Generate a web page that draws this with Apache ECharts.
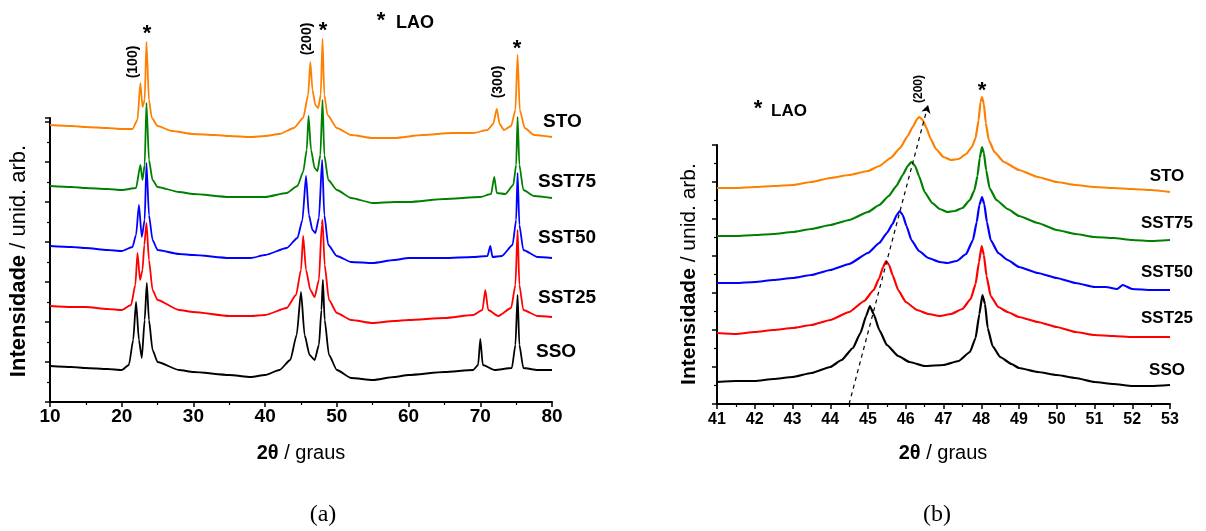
<!DOCTYPE html>
<html><head><meta charset="utf-8">
<script src="https://cdn.jsdelivr.net/npm/echarts@6/dist/echarts.min.js"></script>
<style>html,body{margin:0;padding:0;background:#fff}#c{width:1206px;height:531px}</style>
</head><body><div id="c"></div>
<script>
// ---------- Panel (a): 2θ 10–80°, offset-stacked intensities (arb. units) ----------
const stoA = [[10,277],[13,276],[15,275],[18,274],[20,273],[21.5,273],[22.2,282],[22.6,319],[22.9,295],[23.2,302],[23.45,360],[23.8,302],[24.2,284],[25,276],[27,271],[30,268],[33,267],[35,266],[38,265],[40,266],[42,268],[44,274],[45.3,284],[46.0,307],[46.3,340],[46.6,312],[47.0,297],[47.4,294],[47.75,307],[48.0,363],[48.25,307],[48.7,287],[50,274],[52,267],[55,264],[58,264],[62,267],[66,269],[69,269],[71,272],[71.8,278],[72.3,293],[72.7,278],[73.3,272],[74.3,276],[74.9,292],[75.2,347],[75.5,292],[76.2,274],[77.5,267],[80,265]];
const sst75A = [[10,216],[13,215],[15,214],[18,213],[20,212],[22,214],[22.6,237],[22.9,222],[23.2,237],[23.45,299],[23.8,242],[24.3,222],[25,215],[28,210],[30,208],[35,205],[40,205],[43,209],[44.5,216],[45.3,230],[45.8,252],[46.05,286],[46.4,252],[46.9,234],[47.3,231],[47.7,247],[48.0,302],[48.25,247],[48.8,222],[50,212],[52,204],[55,199],[58,200],[60,200],[65,203],[70,205],[71.5,208],[71.95,225],[72.3,209],[73.5,208],[74.6,217],[75.0,237],[75.2,285],[75.45,237],[76.0,212],[77.5,206],[80,204]];
const sst50A = [[10,156],[13,155],[15,154],[18,152],[20,151],[21.5,155],[22.0,167],[22.4,197],[22.8,165],[23.2,182],[23.45,239],[23.8,187],[24.3,162],[25,152],[28,148],[30,147],[35,144],[38,144],[40,147],[43,154],[44.5,164],[45.2,182],[45.7,226],[46.1,187],[46.6,172],[47.0,169],[47.5,184],[47.95,242],[48.25,187],[48.8,157],[50,146],[52,140],[55,139],[58,142],[60,144],[65,144],[69,145],[71.0,146],[71.4,156],[71.7,145],[73,146],[74.5,157],[75.0,182],[75.2,229],[75.45,177],[76,152],[78,145],[80,144]];
const sst25A = [[10,96],[13,95],[15,95],[18,93],[20,92],[21.3,97],[21.9,117],[22.2,149],[22.55,122],[22.9,132],[23.15,157],[23.45,179],[23.8,142],[24.3,112],[25,102],[28,92],[30,90],[35,86],[38,86],[40,87],[43,94],[44.3,107],[45.0,132],[45.3,166],[45.7,132],[46.3,112],[46.9,105],[47.5,122],[47.9,177],[48.0,182],[48.3,137],[48.9,102],[50,89],[52,82],[55,79],[58,81],[60,82],[65,84],[69,87],[70.3,92],[70.7,112],[71.1,92],[72.5,86],[74.3,94],[74.9,117],[75.2,172],[75.45,117],[76,92],[78,86],[80,85]];
const ssoA = [[10,36],[13,35],[15,34],[18,33],[20,32],[21.0,37],[21.6,62],[22.0,100],[22.4,62],[22.8,44],[23.2,82],[23.5,119],[23.8,82],[24.3,52],[25,40],[28,32],[30,30],[35,27],[38,25],[40,27],[42,32],[43.5,42],[44.4,67],[45.0,110],[45.5,67],[46.2,47],[46.9,42],[47.5,57],[47.85,92],[48.05,122],[48.3,82],[48.9,47],[50,32],[52,24],[55,22],[58,25],[60,27],[65,30],[69,32],[69.7,37],[70.0,63],[70.35,37],[72,32],[74.4,34],[74.9,57],[75.2,107],[75.45,57],[76,34],[78,32],[80,32]];

// ---------- Panel (b): 2θ 41–53° ----------
const stoB = [[41,216],[41.5,216],[42,217],[42.5,218],[43,219],[43.5,222],[44,226],[44.5,229],[45,233],[45.3,238],[45.6,246],[45.85,256],[46.05,268],[46.2,278],[46.3,285],[46.36,287],[46.45,284],[46.55,276],[46.65,266],[46.8,255],[47.0,247],[47.2,244],[47.4,245],[47.6,250],[47.75,257],[47.85,266],[47.93,284],[47.98,302],[48.02,307],[48.07,300],[48.12,281],[48.2,264],[48.35,252],[48.6,242],[49.0,234],[49.5,227],[50.0,222],[50.5,219],[51.0,217],[51.5,216],[52.0,215],[52.5,214],[53.0,212]];
const sst75B = [[41,168],[41.5,168],[42,169],[42.5,170],[43,172],[43.5,175],[44,179],[44.5,184],[45,192],[45.3,199],[45.55,208],[45.75,218],[45.92,229],[46.05,238],[46.15,242],[46.25,238],[46.35,228],[46.5,212],[46.7,201],[46.9,195],[47.1,192],[47.3,193],[47.5,196],[47.7,204],[47.82,214],[47.9,228],[47.96,246],[48.02,257],[48.07,251],[48.13,234],[48.22,216],[48.4,204],[48.7,195],[49.0,188],[49.5,181],[50.0,174],[50.5,170],[51.0,167],[51.5,166],[52.0,164],[52.5,163],[53.0,164]];
const sst50B = [[41,121],[41.5,121],[42,122],[42.5,124],[43,126],[43.5,129],[44,134],[44.5,140],[45.0,151],[45.3,161],[45.5,171],[45.65,180],[45.76,189],[45.84,193],[45.92,189],[46.02,178],[46.15,164],[46.35,153],[46.6,146],[46.9,142],[47.1,141],[47.35,143],[47.6,150],[47.78,164],[47.88,182],[47.95,199],[48.02,207],[48.08,200],[48.15,182],[48.25,164],[48.45,151],[48.7,144],[49.0,137],[49.5,131],[50.0,126],[50.5,121],[51.0,117],[51.3,117],[51.6,115],[51.75,119],[52.0,115],[52.5,114],[53.0,114]];
const sst25B = [[41,71],[41.5,70],[42,72],[42.5,74],[43,76],[43.5,79],[44,84],[44.5,92],[44.9,103],[45.15,114],[45.3,126],[45.4,137],[45.48,143],[45.56,139],[45.65,129],[45.8,114],[46.0,102],[46.3,94],[46.6,90],[46.9,88],[47.2,90],[47.5,95],[47.72,105],[47.85,120],[47.94,142],[48.01,158],[48.07,149],[48.14,128],[48.25,108],[48.45,97],[48.7,92],[49.0,87],[49.5,82],[50.0,77],[50.5,72],[51.0,69],[51.5,68],[52.0,67],[52.5,67],[53.0,67]];
const ssoB = [[41,22],[41.5,23],[42,23],[42.5,25],[43,27],[43.5,31],[44,37],[44.3,44],[44.6,56],[44.8,71],[44.95,88],[45.05,98],[45.15,90],[45.3,74],[45.5,59],[45.8,48],[46.1,42],[46.5,38],[47.0,39],[47.4,43],[47.7,52],[47.85,66],[47.95,90],[48.03,109],[48.1,100],[48.17,76],[48.3,58],[48.5,47],[48.8,40],[49.0,36],[49.5,32],[50.0,29],[50.5,26],[51.0,22],[51.5,20],[52.0,18],[52.5,18],[53.0,19]];
const shiftArrowB = [[44.5,0],[46.59,299]];

const names = ['STO','SST75','SST50','SST25','SSO'];
const colors = ['#ff8000','#008000','#0000ff','#ff0000','#000000'];
const dataA = [stoA, sst75A, sst50A, sst25A, ssoA];
const dataB = [stoB, sst75B, sst50B, sst25B, ssoB];

const FONT = "'Liberation Sans', Arial, sans-serif";
const chart = echarts.init(document.getElementById('c'), null, {renderer:'canvas'});

function xAxis(grid, min, max, interval, fs, margin){
  return {type:'value', gridIndex:grid, min, max, interval,
    axisLine:{show:true, onZero:false, lineStyle:{color:'#000', width:2}},
    axisTick:{show:true, length:5, lineStyle:{color:'#000', width:1.5}},
    minorTick:{show:true, splitNumber:2, length:3, lineStyle:{color:'#000', width:1.2}},
    axisLabel:{color:'#000', fontWeight:'bold', fontSize:fs, fontFamily:FONT, margin},
    splitLine:{show:false}, minorSplitLine:{show:false}};
}
function yAxis(grid, max, interval){
  return {type:'value', gridIndex:grid, min:0, max, interval,
    axisLine:{show:true, onZero:false, lineStyle:{color:'#000', width:2}},
    axisTick:{show:true, length:5, lineStyle:{color:'#000', width:1.5}},
    minorTick:{show:true, splitNumber:2, length:3, lineStyle:{color:'#000', width:1.2}},
    axisLabel:{show:false}, splitLine:{show:false}, minorSplitLine:{show:false}};
}
const series = [];
dataA.forEach((d,i)=>series.push({type:'line', name:names[i]+' a', xAxisIndex:0, yAxisIndex:0, data:d,
  showSymbol:false, symbol:'none', clip:false, smooth:0.2, smoothMonotone:'x',
  lineStyle:{color:colors[i], width:1.8}, z:10-i}));
dataB.forEach((d,i)=>series.push({type:'line', name:names[i]+' b', xAxisIndex:1, yAxisIndex:1, data:d,
  showSymbol:false, symbol:'none', clip:false, smooth:0.15, smoothMonotone:'x',
  lineStyle:{color:colors[i], width:2.2}, z:10-i}));

const baseOption = {
  animation:false, backgroundColor:'#fff',
  grid:[{left:50, right:654, top:118, bottom:129},{left:717, right:36, top:145, bottom:127}],
  xAxis:[xAxis(0,10,80,10,19,5), xAxis(1,41,53,1,16,8)],
  yAxis:[yAxis(0,284,40), yAxis(1,259,37)],
  series
};
chart.setOption(baseOption);

// dashed shift arrow in panel (b), arrowhead rotated along the line direction
const p0 = chart.convertToPixel({gridIndex:1}, shiftArrowB[0]);
const p1 = chart.convertToPixel({gridIndex:1}, shiftArrowB[1]);
const ang = Math.atan2(p1[0]-p0[0], p0[1]-p1[1]) * 180 / Math.PI;
chart.setOption({series: series.concat([{type:'line', xAxisIndex:1, yAxisIndex:1, clip:false, z:20,
  data:[{value:shiftArrowB[0], symbol:'none'},
        {value:shiftArrowB[1], symbol:'arrow', symbolSize:[7,8], symbolRotate:-ang, itemStyle:{color:'#000'}}],
  showSymbol:true, showAllSymbol:true, symbol:'none',
  lineStyle:{type:[4,4], color:'#000', width:1.2}}])});

function txt(x,y,text,fs,opts){
  return Object.assign({type:'text', x, y, silent:true, style:Object.assign({text, fontSize:fs, fontWeight:'bold', fontFamily:FONT,
    fill:'#000', align:'left', verticalAlign:'middle'}, opts||{})});
}
const g = [];
[[543,122],[538,182],[538,238],[538,298],[536,352]].forEach((p,i)=>g.push(txt(p[0],p[1],names[i],19)));
[176,223,272,318,370].forEach((y,i)=>g.push(txt(1167,y,names[i],17,{align:'center'})));
const rich = {b:{fontWeight:'bold', fontSize:20, fontFamily:FONT, fill:'#000'}, n:{fontWeight:'normal', fontSize:20, fontFamily:FONT, fill:'#000'}};
g.push(txt(301,453,'{b|2θ}{n| / graus}',20,{align:'center', rich}));
g.push(txt(943,453,'{b|2θ}{n| / graus}',20,{align:'center', rich}));
const richY1 = {b:{fontWeight:'bold', fontSize:22, fontFamily:FONT, fill:'#000'}, n:{fontWeight:'normal', fontSize:22, fontFamily:FONT, fill:'#000'}};
const richY2 = {b:{fontWeight:'bold', fontSize:21, fontFamily:FONT, fill:'#000'}, n:{fontWeight:'normal', fontSize:21, fontFamily:FONT, fill:'#000'}};
g.push(Object.assign(txt(19,261,'{b|Intensidade}{n| / unid. arb.}',22,{align:'center', rich:richY1}),{rotation:Math.PI/2}));
g.push(Object.assign(txt(689,274,'{b|Intensidade}{n| / unid. arb.}',21,{align:'center', rich:richY2}),{rotation:Math.PI/2}));
g.push(txt(323,515,'(a)',24,{align:'center', fontWeight:'normal', fontFamily:"'Liberation Serif','Times New Roman',serif"}));
g.push(txt(937,515,'(b)',24,{align:'center', fontWeight:'normal', fontFamily:"'Liberation Serif','Times New Roman',serif"}));
g.push(Object.assign(txt(133,62,'(100)',14,{align:'center'}),{rotation:Math.PI/2}));
g.push(Object.assign(txt(307,39,'(200)',14,{align:'center'}),{rotation:Math.PI/2}));
g.push(Object.assign(txt(498,82,'(300)',14,{align:'center'}),{rotation:Math.PI/2}));
const AST = 22;
[[147,28],[323,25],[517,43],[381,15]].forEach(p=>g.push(txt(p[0],p[1]+6,'*',AST,{align:'center'})));
g.push(txt(396,23,'LAO',18));
g.push(Object.assign(txt(919,89,'(200)',12,{align:'center'}),{rotation:Math.PI/2}));
[[982,85],[758,103]].forEach(p=>g.push(txt(p[0],p[1]+6,'*',AST,{align:'center'})));
g.push(txt(771,111,'LAO',17));
chart.setOption({graphic:g});
</script></body></html>
